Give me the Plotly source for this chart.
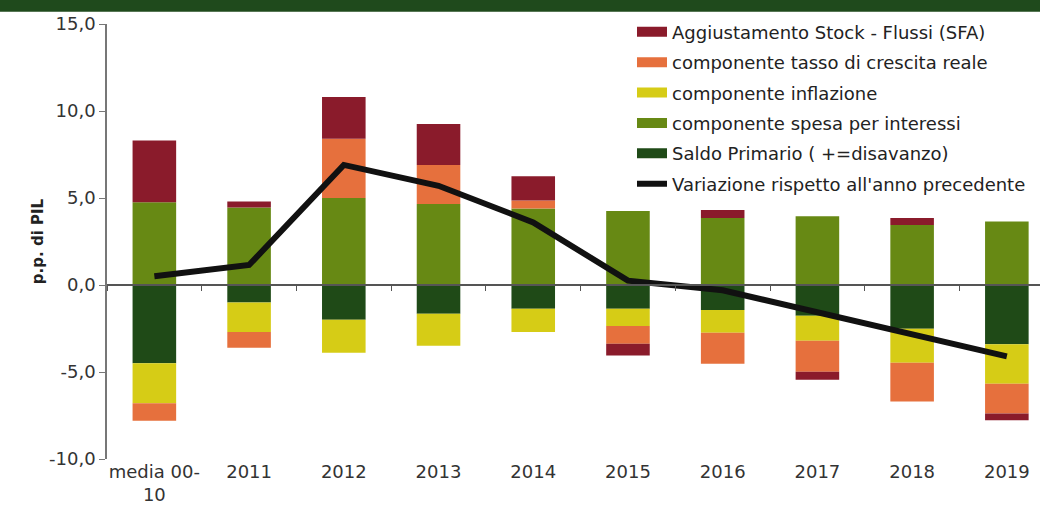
import plotly.graph_objects as go

# categories and components (p.p. di PIL)
anni = ["media 00-<br>10", "2011", "2012", "2013", "2014", "2015", "2016", "2017", "2018", "2019"]
saldo_primario = [-4.5, -1.0, -2.0, -1.65, -1.37, -1.37, -1.43, -1.77, -2.52, -3.4]
spesa_interessi = [4.75, 4.45, 5.0, 4.65, 4.4, 4.25, 3.85, 3.95, 3.45, 3.65]
inflazione = [-2.3, -1.7, -1.9, -1.84, -1.33, -0.98, -1.32, -1.43, -1.95, -2.27]
crescita_reale = [-1.0, -0.9, 3.4, 2.25, 0.45, -1.03, -1.77, -1.78, -2.23, -1.72]
sfa = [3.55, 0.35, 2.4, 2.35, 1.4, -0.67, 0.46, -0.46, 0.4, -0.38]
variazione = [0.5, 1.15, 6.9, 5.7, 3.6, 0.25, -0.3, -1.55, -2.85, -4.1]

y_ticks = [-10, -5, 0, 5, 10, 15]
y_ticktext = ["-10,0", "-5,0", "0,0", "5,0", "10,0", "15,0"]

font = "DejaVu Sans"

fig = go.Figure()

bars = [
    ("Saldo Primario ( +=disavanzo)", saldo_primario, "#1f4a17", 5),
    ("componente spesa per interessi", spesa_interessi, "#678914", 4),
    ("componente inflazione", inflazione, "#d6cc16", 3),
    ("componente tasso di crescita reale", crescita_reale, "#e6703d", 2),
    ("Aggiustamento Stock - Flussi (SFA)", sfa, "#8a1b2b", 1),
]
for name, vals, col, rank in bars:
    fig.add_trace(go.Bar(x=anni, y=vals, name=name, marker_color=col,
                         marker_line_width=0, showlegend=False, legendgroup=name))
    # wide legend swatch, like the original
    fig.add_trace(go.Scatter(x=[None], y=[None], name=name, mode="lines",
                             line=dict(color=col, width=12), legendrank=rank,
                             legendgroup=name, hoverinfo="skip"))

fig.add_trace(go.Scatter(x=anni, y=variazione, name="Variazione rispetto all'anno precedente",
                         mode="lines", line=dict(color="#111111", width=6),
                         legendrank=6, legendgroup="var"))

# invisible trace to carry the axis drawn at zero
fig.add_trace(go.Scatter(x=anni, y=[0] * len(anni), xaxis="x2", mode="markers",
                         marker_opacity=0, showlegend=False, hoverinfo="skip"))

fig.update_layout(
    width=1040, height=517,
    margin=dict(l=107, r=0, t=24, b=58),
    paper_bgcolor="white", plot_bgcolor="white",
    barmode="relative", bargap=0.54,
    font=dict(family=font, size=18, color="#333333"),
    showlegend=True,
    legend=dict(x=0.5627, y=1.024, xanchor="left", yanchor="top",
                font=dict(size=18, color="#222222"), tracegroupgap=4,
                bgcolor="rgba(0,0,0,0)", itemwidth=30),
    xaxis=dict(range=[-0.5, 9.35], showline=False, ticks="", showgrid=False,
               automargin=False, tickfont=dict(size=18, color="#333333")),
    xaxis2=dict(overlaying="x", matches="x", anchor="free", position=0.4,
                showline=True, linecolor="#555555", linewidth=1.5,
                ticks="outside", ticklen=5, tickcolor="#555555",
                tickson="boundaries", showticklabels=False, showgrid=False),
    yaxis=dict(range=[-10, 15], tickvals=y_ticks, ticktext=y_ticktext, showgrid=False,
               zeroline=False, showline=True, linecolor="#777777", linewidth=1.5,
               ticks="outside", ticklen=6, tickcolor="#777777", automargin=False,
               tickfont=dict(size=18, color="#333333"),
               title=dict(text="<b>p.p. di PIL</b>", font=dict(size=15, color="#222222"),
                          standoff=2)),
    shapes=[dict(type="rect", xref="paper", yref="paper",
                 x0=-0.2, x1=1.1, y0=1.028, y1=1.1,
                 fillcolor="#1f4a1c", line_width=0, layer="below")],
)

# drop the default body margin so the figure sits at the window's corner
fig.write_html("out.html", config={"displayModeBar": False},
               post_script="document.body.style.margin='0';")
